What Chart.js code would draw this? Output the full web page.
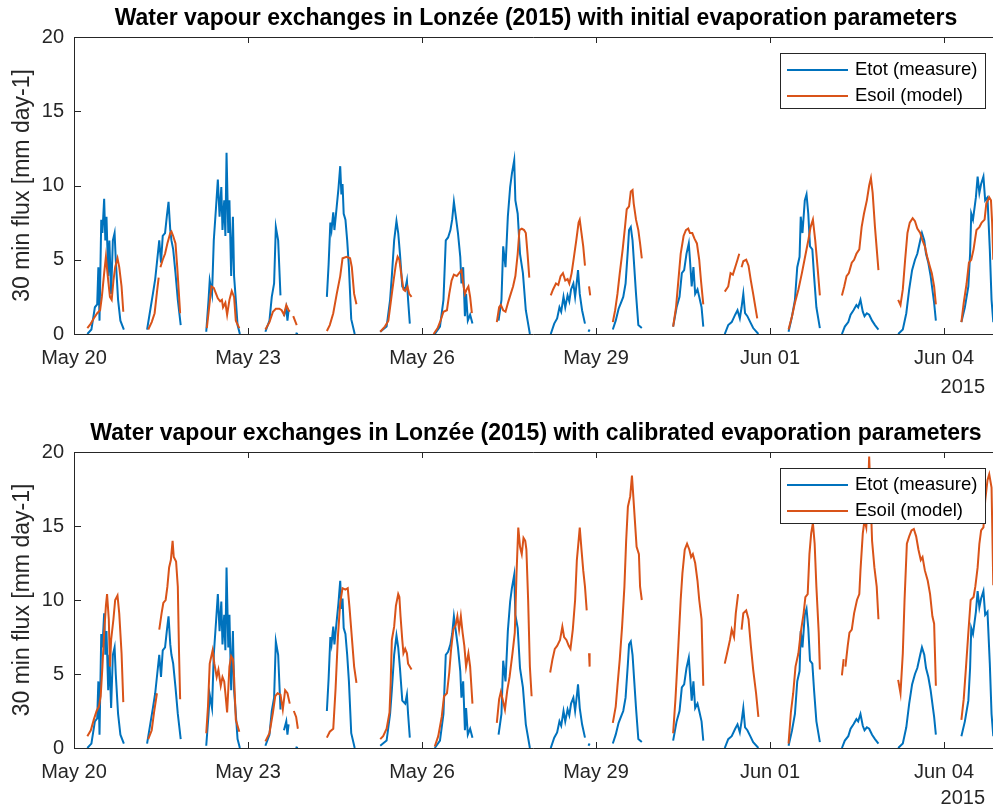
<!DOCTYPE html>
<html>
<head>
<meta charset="utf-8">
<title>Water vapour exchanges in Lonzée (2015)</title>
<script src="https://cdn.jsdelivr.net/npm/chart.js@4.4.1/dist/chart.umd.min.js"></script>
<style>
  body { margin: 0; background: #fff; width: 993px; height: 810px; overflow: hidden; position: relative; }
  canvas { position: absolute; left: 0; }
  #chartInit { top: 0; }
  #chartCal { top: 400px; }
</style>
</head>
<body>
<canvas id="chartInit" width="993" height="400"></canvas>
<canvas id="chartCal" width="993" height="410"></canvas>
<script>
// time axis: days since May 20 2015 00:00, 30 min flux in mm day-1
const tickDays = [0, 3, 6, 9, 12, 15];
const tickLabels = ['May 20', 'May 23', 'May 26', 'May 29', 'Jun 01', 'Jun 04'];
const fluxTicks = [0, 5, 10, 15, 20];
const yearLabel = '2015';
const yLabel = '30 min flux [mm day-1]';
const titles = [
  'Water vapour exchanges in Lonzée (2015) with initial evaporation parameters',
  'Water vapour exchanges in Lonzée (2015) with calibrated evaporation parameters'
];
const seriesNames = ['Etot (measure)', 'Esoil (model)'];

// Etot (measured) - same in both plots
const etotDays = [
  0.23,0.30,0.36,0.40,0.42,0.44,0.47,0.49,0.52,0.54,0.56,0.59,0.61,0.64,0.67,0.70,0.72,0.76,0.80,0.86, 1.0,
  1.26,1.31,1.36,1.40,1.47,1.50,1.53,1.57,1.60,1.63,1.66,1.68,1.71,1.75,1.79,1.84, 2.0,
  2.28,2.32,2.34,2.38,2.41,2.45,2.48,2.51,2.54,2.56,2.59,2.61,2.63,2.66,2.68,2.71,2.74,2.76,2.79,2.82,2.86, 3.0,
  3.30,3.37,3.41,3.45,3.48,3.52,3.56,3.59,3.62,3.66,3.68,3.70,3.76,3.82,3.86, 4.0,
  4.36,4.39,4.42,4.44,4.47,4.49,4.53,4.56,4.59,4.61,4.63,4.65,4.68,4.71,4.74,4.78,4.84, 5.0,
  5.28,5.39,5.45,5.48,5.52,5.56,5.59,5.62,5.66,5.71,5.74,5.76,5.79, 6.0,
  6.22,6.31,6.37,6.41,6.45,6.49,6.52,6.55,6.59,6.62,6.66,6.68,6.71,6.74,6.76,6.79,6.83,6.87, 7.0,
  7.32,7.37,7.40,7.44,7.48,7.52,7.55,7.59,7.61,7.65,7.69,7.74,7.79,7.86, 8.0,
  8.22,8.28,8.33,8.37,8.40,8.44,8.47,8.51,8.54,8.57,8.61,8.64,8.68,8.69,8.72,8.76,8.81,8.84,8.87,8.89, 9.0,
  9.29,9.34,9.39,9.43,9.47,9.51,9.55,9.57,9.60,9.63,9.66,9.69,9.73,9.79, 10.0,
  10.33,10.39,10.44,10.48,10.52,10.56,10.60,10.62,10.65,10.68,10.71,10.75,10.78,10.82,10.85, 11.0,
  11.22,11.28,11.34,11.40,11.44,11.48,11.51,11.54,11.57,11.61,11.66,11.71,11.80, 12.0,
  12.32,12.38,12.43,12.47,12.51,12.53,12.56,12.60,12.63,12.66,12.69,12.73,12.76,12.80,12.86, 13.0,
  13.24,13.29,13.35,13.39,13.44,13.49,13.52,13.56,13.60,13.63,13.67,13.71,13.76,13.81,13.87, 14.0,
  14.21,14.29,14.35,14.40,14.45,14.50,14.54,14.59,14.62,14.66,14.69,14.73,14.77,14.81,14.83,14.86, 15.0,
  15.30,15.36,15.42,15.45,15.47,15.50,15.55,15.58,15.61,15.64,15.68,15.71,15.75,15.79,15.82,15.85
];
const etotFlux = [
  0.0,0.3,1.8,2.0,4.5,0.9,7.7,6.8,9.1,6.3,7.9,3.9,6.3,2.7,6.3,6.8,5.0,2.3,0.9,0.3, null,
  0.3,1.5,2.7,3.7,6.3,4.8,6.6,6.8,7.9,8.9,7.0,6.3,5.7,4.1,2.3,0.6, null,
  0.15,2.3,3.6,2.7,6.3,8.6,10.4,7.9,9.9,7.0,9.0,6.6,12.2,6.8,9.0,3.9,7.9,3.9,2.3,0.6,0.0, null,
  0.15,0.9,2.5,3.4,7.2,6.3,2.6,null,1.2,1.8,0.9,1.6,null,0.05,0.0, null,
  2.5,4.7,7.5,7.0,8.2,7.0,8.6,9.8,11.3,9.4,10.1,8.1,7.7,6.3,4.5,1.0,0.0, null,
  0.15,0.5,2.3,3.9,6.3,7.6,6.8,5.4,3.2,3.0,3.6,2.3,0.7, null,
  0.0,0.5,2.3,6.3,6.5,7.0,7.7,8.9,7.7,6.8,5.2,3.4,4.5,1.2,2.7,0.9,1.3,0.7, null,
  0.9,2.3,5.9,4.5,7.9,9.9,10.8,11.7,9.0,8.1,5.4,4.1,1.6,0.0, null,
  0.0,0.7,1.05,1.8,1.5,2.5,1.8,2.6,2.2,3.0,3.4,2.5,3.9,4.3,2.7,1.6,0.7,null,0.15,0.3, null,
  0.3,0.9,1.7,2.1,2.5,3.4,5.7,7.0,7.2,6.3,4.5,2.7,0.6,0.4, null,
  0.5,1.8,2.5,4.1,4.3,5.4,6.1,5.0,3.2,4.5,2.7,3.0,2.5,1.8,0.5, null,
  0.0,0.6,0.8,1.3,1.6,1.05,1.8,2.7,1.4,1.2,0.8,0.4,0.0, null,
  0.15,1.2,2.3,4.5,5.2,7.9,6.8,9.0,9.4,8.1,5.9,5.7,3.9,1.8,0.4, null,
  0.0,0.5,0.8,1.3,1.6,1.95,1.8,2.3,1.5,1.2,1.4,1.3,0.9,0.6,0.3, null,
  0.0,0.3,1.4,3.0,4.3,5.0,5.4,6.3,6.8,6.3,5.4,4.8,3.9,2.7,2.1,0.9, null,
  0.8,1.8,3.2,5.4,8.1,7.7,9.2,10.6,9.5,10.1,10.6,9.0,9.2,5.7,2.3,0.8
];

// Esoil (model) with initial evaporation parameters
const esoilInitDays = [
  0.23,0.29,0.34,0.40,0.45,0.48,0.52,0.55,0.59,0.62,0.65,0.68,0.71,0.75,0.78,0.82,0.85, 1.0,
  1.28,1.34,1.39,1.43,1.46,1.47,1.49,1.53,1.57,1.61,1.66,1.68,1.71,1.75,1.78,1.83, 2.0,
  2.29,2.33,2.37,2.41,2.45,2.48,2.52,2.55,2.57,2.61,2.64,2.68,2.72,2.76,2.79,2.85, 3.0,
  3.30,3.37,3.43,3.48,3.54,3.58,3.62,3.66,3.70,3.72,3.75,3.78,3.81,3.84, 4.0,
  4.36,4.41,4.47,4.53,4.59,4.63,4.70,4.76,4.79,4.83,4.87, 5.0,
  5.28,5.36,5.42,5.46,5.51,5.55,5.58,5.61,5.64,5.68,5.71,5.75,5.78,5.82, 6.0,
  6.20,6.27,6.32,6.37,6.43,6.47,6.51,6.55,6.60,6.64,6.68,6.71,6.74,6.77,6.80,6.83,6.86, 7.0,
  7.29,7.33,7.36,7.40,7.44,7.49,7.53,7.57,7.61,7.65,7.68,7.72,7.76,7.79,7.82,7.85, 8.0,
  8.22,8.26,8.31,8.35,8.39,8.43,8.47,8.51,8.54,8.58,8.62,8.66,8.70,8.72,8.75,8.78,8.81,8.85,8.88,8.90, 9.0,
  9.29,9.33,9.37,9.41,9.46,9.50,9.53,9.57,9.60,9.63,9.65,9.69,9.73,9.76,9.79, 10.0,
  10.33,10.38,10.42,10.46,10.51,10.55,10.59,10.62,10.66,10.70,10.74,10.78,10.81,10.85, 11.0,
  11.22,11.28,11.32,11.36,11.40,11.44,11.47,11.49,11.51,11.54,11.59,11.63,11.67,11.71,11.78, 12.0,
  12.32,12.38,12.43,12.49,12.55,12.60,12.66,12.70,12.74,12.78,12.82,12.86, 13.0,
  13.24,13.28,13.32,13.36,13.41,13.45,13.49,13.54,13.58,13.62,13.67,13.71,13.74,13.77,13.81,13.87, 14.0,
  14.21,14.25,14.29,14.33,14.37,14.41,14.46,14.50,14.54,14.59,14.63,14.67,14.71,14.76,14.79,14.83,14.86, 15.0,
  15.30,15.34,15.39,15.43,15.47,15.51,15.56,15.61,15.65,15.70,15.73,15.78,15.81,15.83,15.85
];
const esoilInitFlux = [
  0.4,0.7,1.05,1.4,1.6,2.5,4.1,5.2,3.6,2.5,2.3,3.6,4.5,5.1,4.5,3.2,1.5, null,
  0.3,0.8,1.4,2.8,3.8,null,4.5,5.0,5.4,6.1,6.8,6.9,6.6,6.1,4.5,1.4, null,
  0.4,1.8,3.2,3.1,2.7,2.4,2.2,2.3,1.8,2.1,1.3,2.3,2.9,2.5,0.9,0.4, null,
  0.3,0.8,1.5,1.7,1.7,1.6,1.3,1.95,1.6,1.5,null,1.2,0.9,0.6, null,
  0.2,0.6,1.4,2.7,3.9,5.1,5.2,5.1,4.5,2.7,2.0, null,
  0.15,0.5,0.9,2.1,3.6,4.7,5.2,5.0,4.1,3.0,2.9,3.2,2.7,2.5, null,
  0.0,0.4,0.9,1.5,1.6,2.7,3.6,4.0,3.9,4.1,4.3,3.4,2.7,3.0,3.2,2.5,1.4, null,
  0.8,1.8,1.95,1.6,1.5,2.2,2.7,3.2,3.9,5.4,7.0,7.1,7.0,6.8,5.4,3.8, null,
  2.6,3.0,3.4,3.3,3.9,4.1,3.6,3.7,3.4,4.1,5.2,6.3,7.5,7.7,6.8,5.9,4.6,null,3.2,2.6, null,
  0.8,1.6,2.7,4.1,5.7,7.2,8.4,8.6,9.6,9.7,8.8,7.7,7.0,6.1,5.1, null,
  0.5,1.8,3.6,5.4,6.6,7.0,7.1,6.8,6.8,6.4,6.1,5.0,3.6,2.0, null,
  2.85,3.2,4.1,4.0,4.5,5.0,5.4,null,4.5,4.9,5.0,4.6,3.6,2.7,1.05, null,
  0.3,1.2,2.1,3.0,4.1,5.1,6.3,7.2,7.7,6.3,4.5,2.6, null,
  2.6,3.2,3.9,4.1,4.8,5.0,5.4,5.7,7.2,8.1,9.0,10.0,10.5,9.5,7.2,4.3, null,
  2.3,1.95,3.0,5.0,6.8,7.5,7.8,7.6,7.1,6.8,6.3,5.9,5.2,4.5,4.1,3.2,2.0, null,
  0.8,2.1,3.4,4.8,5.0,5.7,7.0,7.2,7.5,7.7,8.8,9.2,9.0,7.5,5.0
];

// Esoil (model) with calibrated evaporation parameters
const esoilCalDays = [
  0.23,0.29,0.34,0.39,0.43,0.46,0.49,0.52,0.55,0.57,0.60,0.62,0.64,0.68,0.71,0.75,0.78,0.82,0.85, 1.0,
  1.28,1.34,1.38,1.43,1.45,1.47,1.51,1.54,1.58,1.61,1.64,1.67,1.70,1.72,1.76,1.79,1.81,1.83, 2.0,
  2.28,2.31,2.34,2.39,2.42,2.46,2.49,2.53,2.56,2.59,2.61,2.64,2.68,2.71,2.74,2.76,2.79,2.85, 3.0,
  3.30,3.37,3.43,3.47,3.51,3.56,3.60,3.64,3.68,3.72,3.75,3.79,3.83,3.86, 4.0,
  4.36,4.41,4.47,4.51,4.55,4.59,4.63,4.68,4.72,4.75,4.79,4.83,4.87, 5.0,
  5.28,5.33,5.39,5.44,5.46,5.48,5.52,5.55,5.59,5.61,5.63,5.66,5.68,5.71,5.74,5.76,5.82, 6.0,
  6.22,6.28,6.34,6.38,6.43,6.47,6.50,6.54,6.58,6.61,6.64,6.67,6.70,6.73,6.76,6.80,6.83,6.87, 7.0,
  7.29,7.33,7.36,7.39,7.43,7.47,7.51,7.56,7.60,7.63,7.66,7.69,7.72,7.75,7.78,7.80,7.83,7.86,7.89, 8.0,
  8.21,8.25,8.29,8.33,8.38,8.42,8.45,8.49,8.53,8.56,8.60,8.64,8.67,8.70,8.72,8.75,8.78,8.81,8.84,8.86,8.88,8.89, 9.0,
  9.29,9.34,9.37,9.41,9.45,9.49,9.52,9.55,9.59,9.62,9.64,9.67,9.70,9.74,9.76,9.79, 10.0,
  10.33,10.37,10.42,10.46,10.49,10.53,10.57,10.61,10.64,10.67,10.71,10.75,10.78,10.82,10.85, 11.0,
  11.22,11.26,11.31,11.34,11.38,11.41,11.45,11.48,11.51,11.54,11.59,11.63,11.67,11.71,11.76,11.80, 12.0,
  12.32,12.36,12.40,12.44,12.49,12.53,12.58,12.61,12.65,12.68,12.71,12.74,12.77,12.80,12.84,12.86, 13.0,
  13.24,13.27,13.285,13.30,13.34,13.37,13.41,13.45,13.50,13.54,13.56,13.60,13.63,13.66,13.69,13.71,13.74,13.76,13.80,13.84,13.87, 14.0,
  14.21,14.25,14.29,14.32,14.36,14.40,14.44,14.48,14.52,14.56,14.60,14.63,14.67,14.72,14.76,14.80,14.83,14.86, 15.0,
  15.30,15.34,15.38,15.42,15.46,15.51,15.54,15.58,15.61,15.64,15.68,15.71,15.75,15.78,15.82,15.85
];
const esoilCalFlux = [
  0.8,1.2,1.9,2.5,2.8,3.5,5.5,7.8,9.6,10.4,8.7,5.5,7.3,8.7,10.0,10.3,9.1,6.4,3.1, null,
  0.6,1.2,2.4,3.7,null,8.0,9.1,9.8,10.0,10.9,12.2,12.7,14.0,12.9,12.6,10.9,6.6,3.3, null,
  1.0,2.8,5.7,6.6,5.7,4.8,5.3,4.2,4.8,4.5,3.7,2.4,5.5,6.2,6.0,4.8,1.9,1.1, null,
  0.45,1.0,2.4,3.5,3.7,3.6,2.6,3.9,3.7,3.0,null,2.5,2.1,1.3, null,
  0.7,1.1,1.3,4.0,7.5,9.8,10.8,10.7,10.8,9.5,7.5,5.5,4.4, null,
  0.6,0.8,1.3,2.4,4.4,7.3,8.2,9.6,10.4,10.2,8.9,7.3,6.4,6.7,6.4,5.7,5.3, null,
  0.1,0.8,2.1,3.5,3.7,5.1,6.6,8.0,8.3,8.9,8.0,8.9,7.8,6.9,5.5,6.4,5.5,3.0, null,
  1.7,3.3,3.8,3.3,2.6,3.9,4.8,6.4,7.8,11.8,14.9,13.6,13.1,14.2,14.0,13.4,10.0,5.5,3.5, null,
  5.1,6.0,6.7,6.9,7.3,8.2,7.5,7.3,6.9,6.7,8.0,10.0,12.7,14.0,14.9,13.4,12.0,10.9,9.3,null,6.4,5.5, null,
  1.7,2.8,4.2,6.0,8.2,10.9,14.0,16.3,17.0,18.4,17.2,15.4,13.6,13.1,10.9,10.0, null,
  1.0,3.3,6.9,10.0,11.8,13.4,13.8,13.4,12.9,13.1,12.5,11.3,10.0,8.7,4.2, null,
  5.7,6.4,7.3,8.0,7.5,9.1,10.4,null,8.0,9.1,9.3,8.7,6.9,5.3,3.7,2.1, null,
  0.3,2.4,3.7,5.5,6.4,7.8,9.1,10.2,10.4,13.1,14.5,15.2,13.8,10.9,7.8,5.3, null,
  4.9,6.0,null,5.5,6.9,7.8,8.0,9.1,10.0,10.4,12.0,14.5,15.4,14.9,17.2,19.7,16.3,14.0,12.2,10.9,8.7, null,
  4.6,3.7,6.4,10.0,13.8,14.3,14.7,14.8,14.3,13.4,12.7,12.9,12.0,11.3,10.4,8.9,8.4,4.2, null,
  1.9,3.3,5.5,7.8,10.0,10.2,10.9,12.2,13.8,14.7,14.9,16.7,18.1,18.5,17.6,11.0
];

const blue = '#0072BD';
const orange = '#D95319';
const axisColor = '#262626';
const fontFamily = '"Liberation Sans", Arial, Helvetica, sans-serif';

function toPoints(days, flux) {
  return days.map((d, i) => ({ x: d, y: flux[i] }));
}

// draws the MATLAB style box, inward ticks, title, y label, year and legend
const matlabAxes = {
  id: 'matlabAxes',
  afterDraw(chart, args, opts) {
    const { ctx, chartArea: a, scales: { x, y } } = chart;
    ctx.save();
    ctx.strokeStyle = axisColor;
    ctx.lineWidth = 1;
    ctx.beginPath();
    ctx.moveTo(a.right, a.top + 0.5);
    ctx.lineTo(a.left + 0.5, a.top + 0.5);
    ctx.lineTo(a.left + 0.5, a.bottom + 0.5);
    ctx.lineTo(a.right, a.bottom + 0.5);
    tickDays.forEach(d => {
      const px = Math.round(x.getPixelForValue(d)) + 0.5;
      ctx.moveTo(px, a.bottom);
      ctx.lineTo(px, a.bottom - 6);
      ctx.moveTo(px, a.top);
      ctx.lineTo(px, a.top + 6);
    });
    fluxTicks.forEach(v => {
      const py = Math.round(y.getPixelForValue(v)) + 0.5;
      ctx.moveTo(a.left, py);
      ctx.lineTo(a.left + 7, py);
    });
    ctx.stroke();

    // legend box
    const bx = a.right - 213, by = a.top + 16, bw = 205, bh = 55;
    ctx.fillStyle = '#fff';
    ctx.fillRect(bx, by, bw, bh);
    ctx.strokeRect(bx + 0.5, by + 0.5, bw, bh);
    ctx.font = '18.5px ' + fontFamily;
    ctx.textBaseline = 'middle';
    ctx.textAlign = 'left';
    chart.data.datasets.forEach((ds, i) => {
      const ly = by + 17 + i * 26;
      ctx.strokeStyle = ds.borderColor;
      ctx.lineWidth = 2;
      ctx.beginPath();
      ctx.moveTo(bx + 7, ly);
      ctx.lineTo(bx + 68, ly);
      ctx.stroke();
      ctx.fillStyle = '#000';
      ctx.fillText(ds.label, bx + 75, ly);
    });

    // title
    ctx.fillStyle = '#000';
    ctx.font = 'bold 23px ' + fontFamily;
    ctx.textAlign = 'center';
    ctx.fillText(opts.title, 536, opts.titleY);

    // year under last tick
    ctx.fillStyle = axisColor;
    ctx.font = '20px ' + fontFamily;
    ctx.textAlign = 'right';
    ctx.fillText(yearLabel, 985, a.bottom + opts.yearGap);

    // y axis label
    ctx.font = '23px ' + fontFamily;
    ctx.textAlign = 'center';
    ctx.translate(23, (a.top + a.bottom) / 2);
    ctx.rotate(-Math.PI / 2);
    ctx.fillText(yLabel, 0, 0);
    ctx.restore();
  }
};

function makeChart(canvasId, esoilDays, esoilFlux, title, padTop, xHeight, titleY, yearGap) {
  const ctx = document.getElementById(canvasId).getContext('2d');
  return new Chart(ctx, {
    type: 'line',
    data: {
      datasets: [{
        label: seriesNames[0],
        data: toPoints(etotDays, etotFlux),
        borderColor: blue,
        borderWidth: 2,
        pointRadius: 0,
        order: 1
      }, {
        label: seriesNames[1],
        data: toPoints(esoilDays, esoilFlux),
        borderColor: orange,
        borderWidth: 2,
        pointRadius: 0,
        order: 0
      }]
    },
    options: {
      responsive: false,
      animation: false,
      devicePixelRatio: 1,
      spanGaps: false,
      layout: { padding: { top: padTop, left: 0, right: 0, bottom: 0 } },
      plugins: {
        legend: { display: false },
        tooltip: { enabled: false },
        matlabAxes: { title: title, titleY: titleY, yearGap: yearGap }
      },
      scales: {
        x: {
          type: 'linear',
          min: 0,
          max: 15.845,
          grid: { display: false, drawTicks: false },
          border: { display: false },
          afterBuildTicks: scale => { scale.ticks = tickDays.map(v => ({ value: v })); },
          afterFit: scale => { scale.height = xHeight; },
          ticks: {
            autoSkip: false,
            maxRotation: 0,
            padding: 12,
            color: axisColor,
            font: { family: fontFamily, size: 20 },
            callback: value => tickLabels[tickDays.indexOf(value)]
          }
        },
        y: {
          min: 0,
          max: 20,
          grid: { display: false, drawTicks: false },
          border: { display: false },
          afterBuildTicks: scale => { scale.ticks = fluxTicks.map(v => ({ value: v })); },
          afterFit: scale => { scale.width = 74; },
          ticks: {
            padding: 10,
            color: axisColor,
            font: { family: fontFamily, size: 20 }
          }
        }
      }
    },
    plugins: [matlabAxes]
  });
}

makeChart('chartInit', esoilInitDays, esoilInitFlux, titles[0], 37, 66, 19, 53);
makeChart('chartCal', esoilCalDays, esoilCalFlux, titles[1], 52, 62, 34, 50);
</script>
</body>
</html>
